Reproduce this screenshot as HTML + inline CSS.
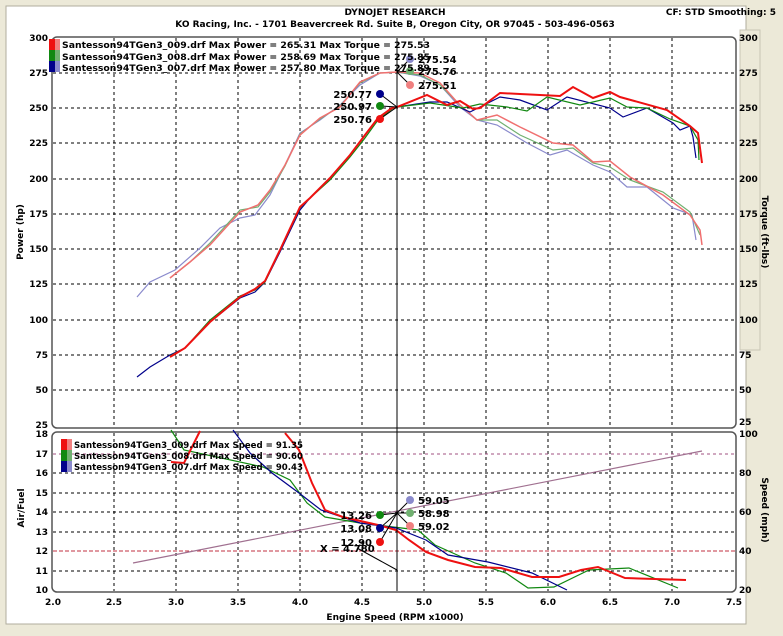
<!DOCTYPE html>
<html><head><style>
body{margin:0;background:#ece9d8;width:783px;height:632px;overflow:hidden;font-family:"DejaVu Sans",Verdana,sans-serif}
svg text{font-family:"DejaVu Sans",Verdana,sans-serif;font-weight:bold}
</style></head><body>
<svg width="783" height="632" viewBox="0 0 783 632">
<rect x="0" y="0" width="783" height="632" fill="#ece9d8"/>
<rect x="6" y="6" width="740" height="618" fill="#ffffff" stroke="#b0ad9e"/>
<rect x="740" y="30" width="20" height="320" fill="#ece9d8" stroke="#c8c5b5"/>
<text x="395" y="15" font-size="9" text-anchor="middle">DYNOJET RESEARCH</text>
<text x="395" y="27" font-size="9" text-anchor="middle">KO Racing, Inc. - 1701 Beavercreek Rd. Suite B, Oregon City, OR 97045 - 503-496-0563</text>
<text x="776" y="15" font-size="9" text-anchor="end">CF: STD  Smoothing: 5</text>
<rect x="52" y="37" width="684" height="391" rx="5" fill="#fff" stroke="#555" stroke-width="1.5"/>
<rect x="52" y="432" width="684" height="160" rx="5" fill="#fff" stroke="#555" stroke-width="1.5"/>
<g stroke="#000" stroke-dasharray="3,3" stroke-width="1">
<line x1="114" y1="38" x2="114" y2="427"/><line x1="176" y1="38" x2="176" y2="427"/><line x1="238" y1="38" x2="238" y2="427"/><line x1="300" y1="38" x2="300" y2="427"/><line x1="362" y1="38" x2="362" y2="427"/><line x1="424" y1="38" x2="424" y2="427"/><line x1="486" y1="38" x2="486" y2="427"/><line x1="548" y1="38" x2="548" y2="427"/><line x1="610" y1="38" x2="610" y2="427"/><line x1="672" y1="38" x2="672" y2="427"/>
<line x1="114" y1="433" x2="114" y2="591"/><line x1="176" y1="433" x2="176" y2="591"/><line x1="238" y1="433" x2="238" y2="591"/><line x1="300" y1="433" x2="300" y2="591"/><line x1="362" y1="433" x2="362" y2="591"/><line x1="424" y1="433" x2="424" y2="591"/><line x1="486" y1="433" x2="486" y2="591"/><line x1="548" y1="433" x2="548" y2="591"/><line x1="610" y1="433" x2="610" y2="591"/><line x1="672" y1="433" x2="672" y2="591"/>
<line x1="53" y1="73" x2="735" y2="73"/><line x1="53" y1="108" x2="735" y2="108"/><line x1="53" y1="143" x2="735" y2="143"/><line x1="53" y1="179" x2="735" y2="179"/><line x1="53" y1="214" x2="735" y2="214"/><line x1="53" y1="249" x2="735" y2="249"/><line x1="53" y1="284" x2="735" y2="284"/><line x1="53" y1="320" x2="735" y2="320"/><line x1="53" y1="355" x2="735" y2="355"/><line x1="53" y1="390" x2="735" y2="390"/>
<line x1="53" y1="473" x2="735" y2="473"/><line x1="53" y1="493" x2="735" y2="493"/><line x1="53" y1="512" x2="735" y2="512"/><line x1="53" y1="532" x2="735" y2="532"/><line x1="53" y1="571" x2="735" y2="571"/>
</g>
<line x1="53" y1="454" x2="735" y2="454" stroke="#a05080" stroke-dasharray="3,3"/>
<line x1="53" y1="551" x2="735" y2="551" stroke="#c03040" stroke-dasharray="4,2"/>
<g font-size="9" text-anchor="end">
<text x="48" y="41">300</text><text x="48" y="76">275</text><text x="48" y="111">250</text><text x="48" y="146">225</text><text x="48" y="182">200</text><text x="48" y="217">175</text><text x="48" y="252">150</text><text x="48" y="287">125</text><text x="48" y="323">100</text><text x="48" y="358">75</text><text x="48" y="393">50</text><text x="48" y="428">25</text>
<text x="48" y="437">18</text><text x="48" y="457">17</text><text x="48" y="476">16</text><text x="48" y="496">15</text><text x="48" y="515">14</text><text x="48" y="535">13</text><text x="48" y="554">12</text><text x="48" y="574">11</text><text x="48" y="593">10</text>
</g>
<g font-size="9">
<text x="739" y="41">300</text><text x="739" y="76">275</text><text x="739" y="111">250</text><text x="739" y="146">225</text><text x="739" y="182">200</text><text x="739" y="217">175</text><text x="739" y="252">150</text><text x="739" y="287">125</text><text x="739" y="323">100</text><text x="739" y="358">75</text><text x="739" y="393">50</text><text x="739" y="425">25</text>
<text x="739" y="437">100</text><text x="739" y="476">80</text><text x="739" y="515">60</text><text x="739" y="554">40</text><text x="739" y="593">20</text>
</g>
<g font-size="9" text-anchor="middle">
<text x="53" y="605">2.0</text><text x="114" y="605">2.5</text><text x="176" y="605">3.0</text><text x="238" y="605">3.5</text><text x="300" y="605">4.0</text><text x="362" y="605">4.5</text><text x="424" y="605">5.0</text><text x="486" y="605">5.5</text><text x="548" y="605">6.0</text><text x="610" y="605">6.5</text><text x="672" y="605">7.0</text><text x="734" y="605">7.5</text>
<text x="395" y="620">Engine Speed (RPM x1000)</text>
</g>
<text font-size="9" transform="translate(23,232) rotate(-90)" text-anchor="middle">Power (hp)</text>
<text font-size="9" transform="translate(24,508) rotate(-90)" text-anchor="middle">Air/Fuel</text>
<text font-size="9" transform="translate(762,232) rotate(90)" text-anchor="middle">Torque (ft-lbs)</text>
<text font-size="9" transform="translate(762,510) rotate(90)" text-anchor="middle">Speed (mph)</text>
<g fill="none" stroke-width="1.2">
<polyline stroke="#8a8acc" points="137,297 150,282 175,270 200,248 220,228 240,218 255,215 270,195 285,165 300,133 320,120 340,105 360,85 380,73 397,72 420,76 440,85 460,107 477,120 497,125 527,143 550,155 567,150 593,165 610,172 627,187 647,187 673,208 692,215 696,240"/>
<polyline stroke="#70b070" points="170,278 190,262 210,243 240,210 258,207 270,192 285,166 300,134 320,119 340,106 360,83 380,73 397,72 420,75 440,85 460,105 477,120 497,120 520,135 553,150 573,148 593,163 610,167 630,180 663,192 690,212 700,235"/>
<polyline stroke="#f07070" stroke-width="1.5" points="170,278 190,262 210,245 240,212 258,205 270,190 285,165 300,135 320,118 340,107 360,82 380,73 397,72 420,73 440,83 457,102 477,120 497,115 520,127 553,143 573,145 593,162 610,161 630,177 663,195 690,215 700,230 702,245"/>
<polyline stroke="#00008b" points="137,377 150,367 170,355 185,348 210,322 240,298 255,292 265,282 280,252 300,210 310,198 330,178 350,155 365,135 378,118 392,108 397,107 430,102 447,102 470,112 500,97 520,100 547,110 567,97 610,108 623,117 647,108 673,123 680,130 690,126 693,137 696,158"/>
<polyline stroke="#118811" points="170,356 185,348 210,320 240,296 255,290 265,282 280,250 300,208 310,198 330,180 350,157 365,138 378,120 392,109 397,107 430,103 463,108 480,104 507,107 527,111 547,97 580,105 610,98 627,107 647,108 670,119 690,126 698,140 699,160"/>
<polyline stroke="#ee1111" stroke-width="2" points="170,357 185,348 210,322 240,297 255,289 265,281 280,250 300,207 310,198 330,178 350,155 365,135 378,118 392,108 397,107 427,95 447,105 460,101 473,109 480,108 500,93 520,94 560,96 573,87 593,98 610,92 620,97 667,110 690,126 698,133 702,163"/>
<polyline stroke="#a07090" points="133,563 702,451"/>
<polyline stroke="#118811" points="171,430 184,450 263,467 290,480 307,503 325,517 360,523 418,530 435,545 475,563 506,573 528,588 554,587 589,570 629,568 678,588"/>
<polyline stroke="#00008b" points="233,430 250,453 272,473 299,493 321,510 360,523 396,528 426,540 448,555 488,562 532,573 567,590"/>
<polyline stroke="#ee1111" stroke-width="2" points="285,433 299,450 312,483 325,510 343,517 378,525 396,530 409,540 426,552 448,560 475,567 501,568 532,577 559,577 581,570 598,567 625,578 686,580"/>
<polyline stroke="#ee1111" stroke-width="2" points="171,462 184,463 197,437 200,431"/>
</g>
<line x1="397" y1="38" x2="397" y2="591" stroke="#000"/>
<g stroke="#000" fill="none">
<polyline points="380,94 397,107"/><polyline points="380,106 397,107"/><polyline points="380,119 397,107"/>
<polyline points="410,59 397,72"/><polyline points="410,71 397,72"/><polyline points="410,85 397,72"/>
<polyline points="380,515 397,513"/><polyline points="380,528 397,513"/><polyline points="380,542 397,513"/>
<polyline points="410,500 397,513"/><polyline points="410,513 397,513"/><polyline points="410,526 397,513"/>
<polyline points="357,548 397,570"/>
</g>
<circle cx="380" cy="94" r="4" fill="#00008b"/><circle cx="380" cy="106" r="4" fill="#118811"/><circle cx="380" cy="119" r="4" fill="#ee1111"/>
<circle cx="410" cy="59" r="4" fill="#8a8acc"/><circle cx="410" cy="71" r="4" fill="#70b070"/><circle cx="410" cy="85" r="4" fill="#f08080"/>
<circle cx="380" cy="515" r="4" fill="#118811"/><circle cx="380" cy="528" r="4" fill="#00008b"/><circle cx="380" cy="542" r="4" fill="#ee1111"/>
<circle cx="410" cy="500" r="4" fill="#8a8acc"/><circle cx="410" cy="513" r="4" fill="#70b070"/><circle cx="410" cy="526" r="4" fill="#f08080"/>
<g font-size="10">
<text x="372" y="98" text-anchor="end">250.77</text><text x="372" y="110" text-anchor="end">250.97</text><text x="372" y="123" text-anchor="end">250.76</text>
<text x="418" y="63">275.54</text><text x="418" y="75">275.76</text><text x="418" y="89">275.51</text>
<text x="372" y="519" text-anchor="end">13.26</text><text x="372" y="532" text-anchor="end">13.08</text><text x="372" y="546" text-anchor="end">12.90</text>
<text x="418" y="504">59.05</text><text x="418" y="517">58.98</text><text x="418" y="530">59.02</text>
<text x="320" y="552">X = 4.780</text>
</g>
<g font-size="9">
<rect x="49" y="39" width="6" height="11" fill="#ee1111"/><rect x="55" y="39" width="5" height="11" fill="#f08080"/>
<rect x="49" y="50" width="6" height="11" fill="#118811"/><rect x="55" y="50" width="5" height="11" fill="#70b070"/>
<rect x="49" y="61" width="6" height="11" fill="#00008b"/><rect x="55" y="61" width="5" height="11" fill="#8a8acc"/>
<text x="62" y="48" textLength="368" lengthAdjust="spacingAndGlyphs">Santesson94TGen3_009.drf Max Power = 265.31 Max Torque = 275.53</text>
<text x="62" y="60" textLength="368" lengthAdjust="spacingAndGlyphs">Santesson94TGen3_008.drf Max Power = 258.69 Max Torque = 275.85</text>
<text x="62" y="71" textLength="368" lengthAdjust="spacingAndGlyphs">Santesson94TGen3_007.drf Max Power = 257.80 Max Torque = 275.89</text>
<rect x="61" y="439" width="6" height="11" fill="#ee1111"/><rect x="67" y="439" width="5" height="11" fill="#f08080"/>
<rect x="61" y="450" width="6" height="11" fill="#118811"/><rect x="67" y="450" width="5" height="11" fill="#70b070"/>
<rect x="61" y="461" width="6" height="11" fill="#00008b"/><rect x="67" y="461" width="5" height="11" fill="#8a8acc"/>
<text x="74" y="448" textLength="229" lengthAdjust="spacingAndGlyphs">Santesson94TGen3_009.drf Max Speed = 91.35</text>
<text x="74" y="459" textLength="229" lengthAdjust="spacingAndGlyphs">Santesson94TGen3_008.drf Max Speed = 90.60</text>
<text x="74" y="470" textLength="229" lengthAdjust="spacingAndGlyphs">Santesson94TGen3_007.drf Max Speed = 90.43</text>
</g>
</svg>
</body></html>
